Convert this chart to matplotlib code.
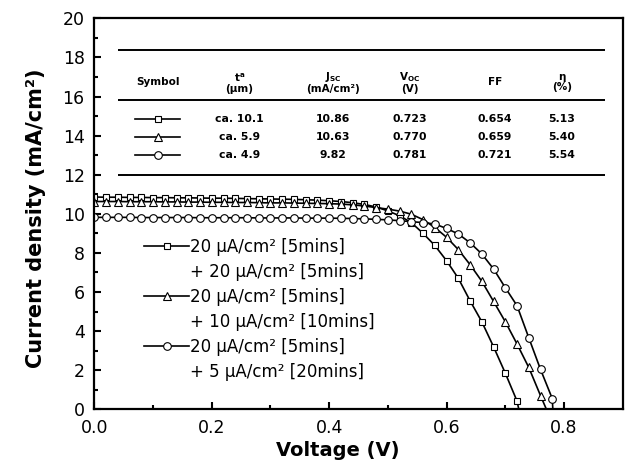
import matplotlib
matplotlib.use("Agg")
import matplotlib.pyplot as plt

plt.rcParams['font.family'] = ['DejaVu Sans']
plt.rcParams['mathtext.fontset'] = 'dejavusans'
plt.rcParams['mathtext.default'] = 'bf'

# J-V data (V in volts, J in mA/cm2)
v_sq = [0.00, 0.02, 0.04, 0.06, 0.08, 0.10, 0.12, 0.14, 0.16, 0.18,
        0.20, 0.22, 0.24, 0.26, 0.28, 0.30, 0.32, 0.34, 0.36, 0.38,
        0.40, 0.42, 0.44, 0.46, 0.48, 0.50, 0.52, 0.54, 0.56, 0.58,
        0.60, 0.62, 0.64, 0.66, 0.68, 0.70, 0.72, 0.723]
j_sq = [10.86, 10.85, 10.85, 10.84, 10.84, 10.83, 10.83, 10.82, 10.82, 10.81,
        10.80, 10.80, 10.79, 10.78, 10.77, 10.76, 10.75, 10.74, 10.72, 10.70,
        10.67, 10.63, 10.57, 10.48, 10.35, 10.15, 9.90, 9.55, 9.00, 8.38,
        7.60, 6.70, 5.55, 4.48, 3.20, 1.85, 0.42, 0.0]

v_tri = [0.00, 0.02, 0.04, 0.06, 0.08, 0.10, 0.12, 0.14, 0.16, 0.18,
         0.20, 0.22, 0.24, 0.26, 0.28, 0.30, 0.32, 0.34, 0.36, 0.38,
         0.40, 0.42, 0.44, 0.46, 0.48, 0.50, 0.52, 0.54, 0.56, 0.58,
         0.60, 0.62, 0.64, 0.66, 0.68, 0.70, 0.72, 0.74, 0.76, 0.770]
j_tri = [10.63, 10.63, 10.63, 10.62, 10.62, 10.62, 10.61, 10.61, 10.60, 10.60,
         10.59, 10.59, 10.58, 10.58, 10.57, 10.56, 10.56, 10.55, 10.54, 10.53,
         10.52, 10.50, 10.46, 10.40, 10.32, 10.24, 10.14, 9.98, 9.70, 9.30,
         8.80, 8.17, 7.40, 6.55, 5.52, 4.48, 3.34, 2.14, 0.70, 0.0]

v_cir = [0.00, 0.02, 0.04, 0.06, 0.08, 0.10, 0.12, 0.14, 0.16, 0.18,
         0.20, 0.22, 0.24, 0.26, 0.28, 0.30, 0.32, 0.34, 0.36, 0.38,
         0.40, 0.42, 0.44, 0.46, 0.48, 0.50, 0.52, 0.54, 0.56, 0.58,
         0.60, 0.62, 0.64, 0.66, 0.68, 0.70, 0.72, 0.74, 0.76, 0.78, 0.781]
j_cir = [9.82, 9.82, 9.82, 9.82, 9.81, 9.81, 9.81, 9.81, 9.81, 9.80,
         9.80, 9.80, 9.80, 9.80, 9.79, 9.79, 9.79, 9.79, 9.78, 9.78,
         9.78, 9.77, 9.76, 9.74, 9.72, 9.69, 9.65, 9.60, 9.55, 9.48,
         9.25, 8.97, 8.52, 7.95, 7.18, 6.22, 5.30, 3.66, 2.04, 0.55, 0.0]

legend_lines = ["20 μA/cm² [5mins]", "+ 20 μA/cm² [5mins]",
                "20 μA/cm² [5mins]", "+ 10 μA/cm² [10mins]",
                "20 μA/cm² [5mins]", "+ 5 μA/cm² [20mins]"]

# table values
thickness = ["ca. 10.1", "ca. 5.9", "ca. 4.9"]
jsc = ["10.86", "10.63", "9.82"]
voc = ["0.723", "0.770", "0.781"]
ff = ["0.654", "0.659", "0.721"]
eta = ["5.13", "5.40", "5.54"]
headers = ["Symbol", "$t^{a}$\n(μm)", "$J_{SC}$\n(mA/cm²)", "$V_{OC}$\n(V)", "FF", "η\n(%)"]

fig = plt.figure(figsize=(6.29, 4.71), dpi=100)
ax = fig.add_axes([0.150, 0.131, 0.840, 0.830])

style = dict(color='black', lw=1.2, mfc='white', mec='black', mew=0.8)
l1, = ax.plot(v_sq, j_sq, marker='s', ms=4.5, markevery=slice(0, len(v_sq) - 1), **style)
l2, = ax.plot(v_tri, j_tri, marker='^', ms=5.5, markevery=slice(0, len(v_tri) - 1), **style)
l3, = ax.plot(v_cir, j_cir, marker='o', ms=5.5, markevery=slice(0, len(v_cir) - 1), **style)

blank, = ax.plot([], [], alpha=0)
handles = [l1, blank, l2, blank, l3, blank]
ax.legend(handles, legend_lines, loc='upper left', bbox_to_anchor=(0.094, 0.438),
          frameon=False, fontsize=12, handlelength=2.7, handletextpad=0.05,
          labelspacing=0.42, borderpad=0, borderaxespad=0)

ax.set_xlim(0, 0.9)
ax.set_ylim(0, 20)
ax.set_xticks([0.0, 0.2, 0.4, 0.6, 0.8])
ax.set_xticks([0.1, 0.3, 0.5, 0.7], minor=True)
ax.set_yticks(range(0, 21, 2))
ax.set_yticks(range(1, 20, 2), minor=True)
ax.tick_params(which='both', direction='in', width=1.5, labelsize=12.5)
ax.tick_params(which='major', length=5)
ax.tick_params(which='minor', length=3)
ax.tick_params(axis='y', pad=7)
ax.tick_params(axis='x', pad=7)
for s in ax.spines.values():
    s.set_linewidth(1.6)
ax.set_xlabel("Voltage (V)", fontsize=14, fontweight='bold')
ax.set_ylabel("Current density (mA/cm²)", fontsize=15, fontweight='bold')
ax.xaxis.set_label_coords(0.46, -0.08)
ax.yaxis.set_label_coords(-0.092, 0.489)

# table inside the plot
col_x = [0.108, 0.247, 0.407, 0.537, 0.682, 0.796]
row_y = [14.84, 13.91, 13.0]
ax.hlines([18.37, 15.81, 11.98], 0.041, 0.869, color='black', lw=1.4)
for x, h in zip(col_x, headers):
    ax.text(x, 16.72, h, ha='center', va='center', fontsize=7.5, fontweight='bold',
            linespacing=1.0)
for i, ln in enumerate([l1, l2, l3]):
    ax.plot([0.069, 0.146], [row_y[i], row_y[i]], color='black', lw=1.2)
    ax.plot([col_x[0]], [row_y[i]], marker=ln.get_marker(), ms=ln.get_markersize(),
            mfc='white', mec='black', mew=0.8)
    for x, val in zip(col_x[1:], [thickness[i], jsc[i], voc[i], ff[i], eta[i]]):
        ax.text(x, row_y[i], val, ha='center', va='center', fontsize=7.8, fontweight='bold')

fig.savefig("out.png", dpi=100)
